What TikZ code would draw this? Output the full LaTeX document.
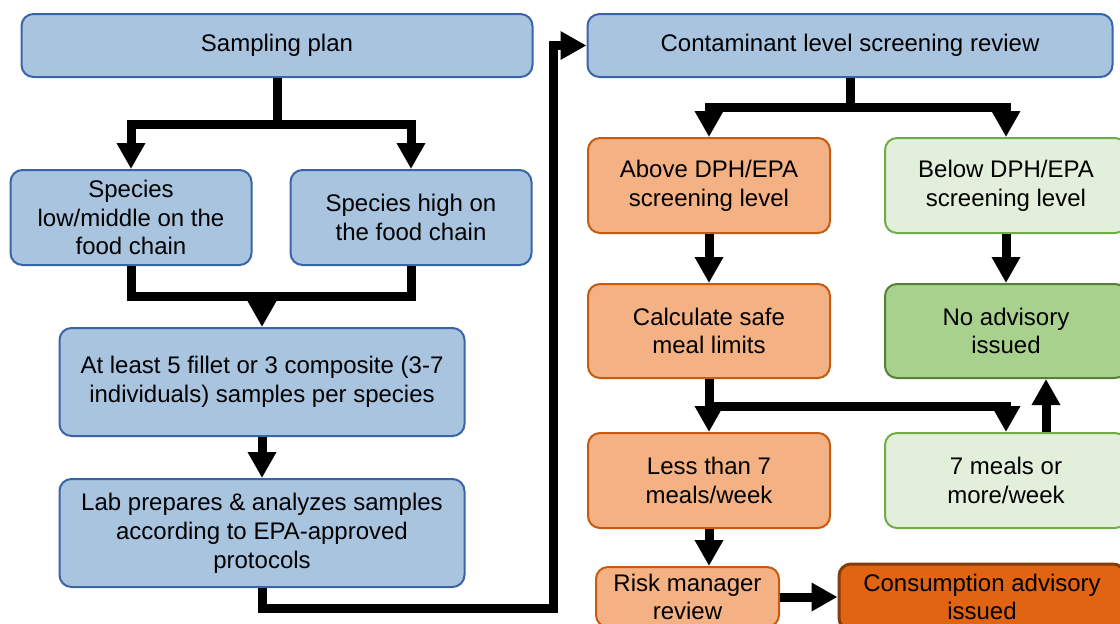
\documentclass[tikz,border=0pt]{standalone}
\usepackage{fontspec}
\setmainfont{Liberation Sans}
\usetikzlibrary{arrows.meta}
\definecolor{bfill}{HTML}{A9C4DF}
\definecolor{bdraw}{HTML}{3A64A8}
\definecolor{ofill}{HTML}{F4B183}
\definecolor{odraw}{HTML}{C55A11}
\definecolor{lgfill}{HTML}{E2EFDA}
\definecolor{lgdraw}{HTML}{70AD47}
\definecolor{gfill}{HTML}{A9D18E}
\definecolor{gdraw}{HTML}{548235}
\definecolor{dofill}{HTML}{E06412}
\definecolor{dodraw}{HTML}{843C0C}
\begin{document}
\begin{tikzpicture}[x=1pt,y=-1pt,
  font=\fontsize{24}{28.8}\selectfont,
  box/.style={rounded corners=12pt, line width=2pt, align=center, inner sep=0pt},
  bluebox/.style={box, fill=bfill, draw=bdraw},
  orangebox/.style={box, fill=ofill, draw=odraw},
  lgreenbox/.style={box, fill=lgfill, draw=lgdraw},
  greenbox/.style={box, fill=gfill, draw=gdraw},
  darkbox/.style={box, fill=dofill, draw=dodraw, line width=3pt},
  conn/.style={line width=9pt},
  arr/.style={conn, -{Triangle[width=27pt,length=26pt]}}]
\useasboundingbox (0,0) rectangle (1120,624);

% left column
\node[bluebox, minimum width=511pt, minimum height=63pt] (sp) at (277,45.5) {Sampling plan};
\node[bluebox, minimum width=241pt, minimum height=95pt] (sl) at (131,217.5) {Species\\low/middle on the\\food chain};
\node[bluebox, minimum width=241pt, minimum height=95pt] (sh) at (411,217.5) {Species high on\\the food chain};
\node[bluebox, minimum width=405pt, minimum height=108pt] (al) at (262,382) {At least 5 fillet or 3 composite (3-7\\individuals) samples per species};
\node[bluebox, minimum width=405pt, minimum height=108pt] (lab) at (262,533) {Lab prepares \& analyzes samples\\according to EPA-approved\\protocols};

% right column
\node[bluebox, minimum width=525pt, minimum height=63pt] (cont) at (850,45.5) {Contaminant level screening review};
\node[orangebox, minimum width=242pt, minimum height=95pt] (ab) at (709,185.5) {Above DPH/EPA\\screening level};
\node[lgreenbox, minimum width=242pt, minimum height=95pt] (be) at (1006,185.5) {Below DPH/EPA\\screening level};
\node[orangebox, minimum width=242pt, minimum height=94pt] (calc) at (709,331) {Calculate safe\\meal limits};
\node[greenbox, minimum width=242pt, minimum height=94pt] (noadv) at (1006,331) {No advisory\\issued};
\node[orangebox, minimum width=242pt, minimum height=95pt] (less) at (709,480.5) {Less than 7\\meals/week};
\node[lgreenbox, minimum width=242pt, minimum height=95pt] (seven) at (1006,480.5) {7 meals or\\more/week};
\node[orangebox, minimum width=183pt, minimum height=60pt] (risk) at (687.5,597) {Risk manager\\review};
\node[darkbox, minimum width=286pt, minimum height=66pt] (cons) at (982,597) {Consumption advisory\\issued};

% junctions
\coordinate (j1) at (277,124);
\coordinate (j2) at (262,296);
\coordinate (j3) at (553,608);
\coordinate (j4) at (850,107);
\coordinate (j5) at (709,406);

% connectors
\draw[conn] (sp.south) -- (j1);
\draw[arr] (j1) -| (sl.north);
\draw[arr] (j1) -| (sh.north);
\draw[conn] (sl.south) |- (j2) -| (sh.south);
\draw[arr] (j2) -- (al.north);
\draw[arr] (al.south) -- (lab.north);
\draw[arr] (lab.south) |- (j3) |- (cont.west);

\draw[conn] (cont.south) -- (j4);
\draw[arr] (j4) -| (ab.north);
\draw[arr] (j4) -| (be.north);
\draw[arr] (ab.south) -- (calc.north);
\draw[arr] (be.south) -- (noadv.north);
\draw[arr] (calc.south) -- (less.north);
\draw[arr] (j5) -| (seven.north);
\draw[arr] ([xshift=40pt]seven.north) -- ([xshift=40pt]noadv.south);
\draw[arr] (less.south) -- (less.south |- risk.north);
\draw[arr] (risk.east) -- (cons.west);
\end{tikzpicture}
\end{document}
